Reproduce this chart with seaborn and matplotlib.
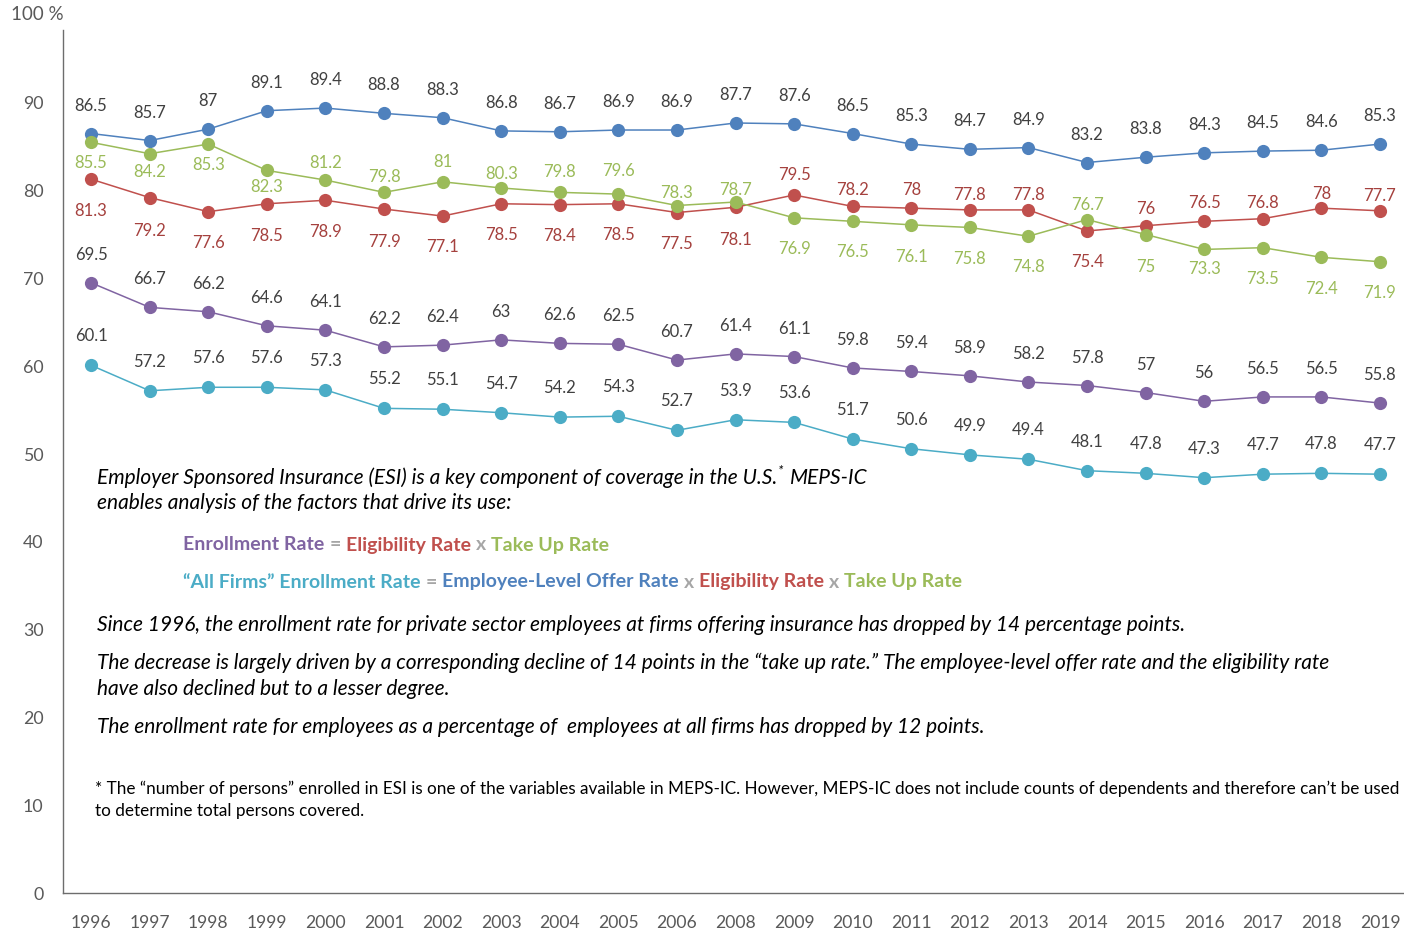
import numpy as np
import pandas as pd
import matplotlib
matplotlib.use('Agg')
import matplotlib.pyplot as plt
import seaborn as sns

# Data (percent), MEPS-IC, 2007 not surveyed
years = [1996, 1997, 1998, 1999, 2000, 2001, 2002, 2003, 2004, 2005, 2006, 2008,
         2009, 2010, 2011, 2012, 2013, 2014, 2015, 2016, 2017, 2018, 2019]
offer_rate = [86.5, 85.7, 87, 89.1, 89.4, 88.8, 88.3, 86.8, 86.7, 86.9, 86.9, 87.7,
              87.6, 86.5, 85.3, 84.7, 84.9, 83.2, 83.8, 84.3, 84.5, 84.6, 85.3]
eligibility_rate = [81.3, 79.2, 77.6, 78.5, 78.9, 77.9, 77.1, 78.5, 78.4, 78.5, 77.5, 78.1,
                    79.5, 78.2, 78, 77.8, 77.8, 75.4, 76, 76.5, 76.8, 78, 77.7]
take_up_rate = [85.5, 84.2, 85.3, 82.3, 81.2, 79.8, 81, 80.3, 79.8, 79.6, 78.3, 78.7,
                76.9, 76.5, 76.1, 75.8, 74.8, 76.7, 75, 73.3, 73.5, 72.4, 71.9]
enrollment_rate = [69.5, 66.7, 66.2, 64.6, 64.1, 62.2, 62.4, 63, 62.6, 62.5, 60.7, 61.4,
                   61.1, 59.8, 59.4, 58.9, 58.2, 57.8, 57, 56, 56.5, 56.5, 55.8]
all_firms_enrollment = [60.1, 57.2, 57.6, 57.6, 57.3, 55.2, 55.1, 54.7, 54.2, 54.3, 52.7, 53.9,
                        53.6, 51.7, 50.6, 49.9, 49.4, 48.1, 47.8, 47.3, 47.7, 47.8, 47.7]

# label placement (pixels below the point, negative = above)
red_off = [32, 33, 31, 32, 32, 33, 31, 31, 31, 31, 31, 33,
           -20, -16, -18, -15, -15, 31, -17, -18, -16, -14, -15]
green_off = [21, 18, 21, 17, -17, -15, -20, -14, -20, -23, -13, -12,
             31, 31, 32, 32, 31, -15, 33, 20, 31, 32, 31]

BLUE, RED, GREEN, PURPLE, CYAN = '#4F81BD', '#C0504D', '#9BBB59', '#8064A2', '#4BACC6'
GRAY_TXT = '#595959'
DARK = '#404040'

series = {
    'Employee-Level Offer Rate': offer_rate,
    'Eligibility Rate': eligibility_rate,
    'Take Up Rate': take_up_rate,
    'Enrollment Rate': enrollment_rate,
    'All Firms Enrollment Rate': all_firms_enrollment,
}
df = pd.DataFrame(series)
df['pos'] = range(len(years))
long = df.melt(id_vars='pos', var_name='series', value_name='value')

sns.set_style('white')
plt.rcParams['font.family'] = ['Lato', 'DejaVu Sans']

W, H = 1404, 931
fig = plt.figure(figsize=(W / 100, H / 100), dpi=100)
ax = fig.add_axes([63 / W, (H - 893) / H, 1 - 63 / W, 878 / H])

palette = [BLUE, RED, GREEN, PURPLE, CYAN]
sns.lineplot(data=long, x='pos', y='value', hue='series', hue_order=list(series.keys()),
             palette=palette, marker='o', markersize=9.5, markeredgewidth=0,
             linewidth=1.1, legend=False, sort=False, ax=ax)

ax.set_xlim(-0.48, 22.41)
ax.set_ylim(0, 100)
ax.set_xticks(range(len(years)))
ax.set_xticklabels(years)
ax.set_yticks(range(0, 100, 10))
ax.tick_params(axis='x', length=0, pad=15.5, labelsize=12.6, labelcolor=GRAY_TXT)
ax.tick_params(axis='y', length=0, pad=14, labelsize=12.8, labelcolor=GRAY_TXT)
ax.set_xlabel('')
ax.set_ylabel('')
for s in ['top', 'right']:
    ax.spines[s].set_visible(False)
for s in ['left', 'bottom']:
    ax.spines[s].set_color('#6d6d6d')
    ax.spines[s].set_linewidth(1.0)
ax.spines['left'].set_bounds(0, 98.3)
ax.grid(False)


def label_series(vals, offs, color):
    for i, v in enumerate(vals):
        ax.annotate(f'{v:g}', (i, v), xytext=(0, -offs[i]), textcoords='offset pixels',
                    ha='center', va='center', fontsize=12, color=color, annotation_clip=False)


label_series(offer_rate, [-28] * 23, DARK)
label_series(eligibility_rate, red_off, '#A5413E')
label_series(take_up_rate, green_off, GREEN)
label_series(enrollment_rate, [-28] * 23, DARK)
label_series(all_firms_enrollment, [-29] * 23, DARK)


def ftext(x, y, s, **kw):
    return fig.text(x / W, 1 - y / H, s, va='center', **kw)


ftext(11, 15, '100 %', fontsize=13.5, color=GRAY_TXT)

renderer = fig.canvas.get_renderer()


def run_text(x, y, parts, **kw):
    # parts drawn one after another on the same line: (text, colour, dy, size, gap after)
    for s, c, dy, fs, gap in parts:
        t = ftext(x, y + dy, s, color=c, fontsize=fs, **kw)
        x += t.get_window_extent(renderer=renderer).width + gap


IF = 15.0
IT = dict(style='italic', fontsize=IF, color='black')
run_text(97, 478, [('Employer Sponsored Insurance (ESI) is a key component of coverage in the U.S.', 'black', 0, IF, 1),
                   ('*', 'black', -7, 10, 6),
                   ('MEPS-IC', 'black', 0, IF, 0)], style='italic')
ftext(97, 503, 'enables analysis of the factors that drive its use:', **IT)

SEP = '#A6A6A6'
BF = 14.0
run_text(183, 545, [('Enrollment Rate', PURPLE, 0, BF, 5), ('=', SEP, 0, BF, 5),
                    ('Eligibility Rate', RED, 0, BF, 5), ('x', SEP, 0, BF, 5),
                    ('Take Up Rate', GREEN, 0, BF, 0)], fontweight='bold')
run_text(183, 582, [('\u201cAll Firms\u201d Enrollment Rate', CYAN, 0, BF, 5), ('=', SEP, 0, BF, 5),
                    ('Employee-Level Offer Rate', BLUE, 0, BF, 5), ('x', SEP, 0, BF, 5),
                    ('Eligibility Rate', RED, 0, BF, 5), ('x', SEP, 0, BF, 5),
                    ('Take Up Rate', GREEN, 0, BF, 0)], fontweight='bold')

ftext(97, 625, 'Since 1996, the enrollment rate for private sector employees at firms offering '
               'insurance has dropped by 14 percentage points.', **IT)
ftext(97, 663, 'The decrease is largely driven by a corresponding decline of 14 points in the '
               '\u201ctake up rate.\u201d The employee-level offer rate and the eligibility rate', **IT)
ftext(97, 689, 'have also declined but to a lesser degree.', **IT)
ftext(97, 727, 'The enrollment rate for employees as a percentage of  employees at all firms '
               'has dropped by 12 points.', **IT)

FN = dict(fontsize=12.3, color='black')
ftext(95, 789, '* The \u201cnumber of persons\u201d enrolled in ESI is one of the variables available in '
               'MEPS-IC. However, MEPS-IC does not include counts of dependents and therefore '
               'can\u2019t be used', **FN)
ftext(95, 811, 'to determine total persons covered.', **FN)

fig.savefig('out.png', dpi=100)
